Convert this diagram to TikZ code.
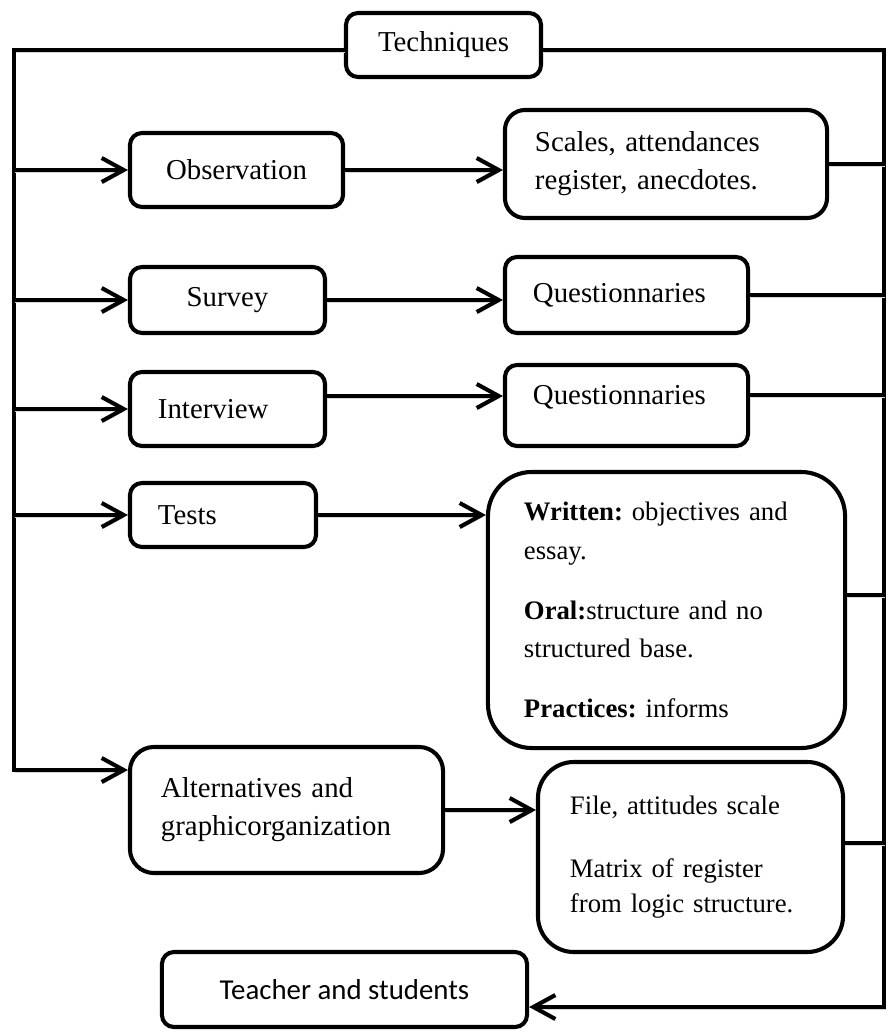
\documentclass[tikz,border=0pt]{standalone}
\usepackage{fontspec}
\setmainfont{Liberation Serif}
\newfontfamily\calibrifont{Carlito}
\usetikzlibrary{arrows.meta,shadows}
\frenchspacing

\begin{document}
\begin{tikzpicture}[x=0.025cm, y=-0.025cm,
    box/.style={draw, line width=2.9pt, rounded corners=0.3cm, fill=white, inner sep=0pt,
        drop shadow={fill=black!16, shadow xshift=0.7pt, shadow yshift=-1.4pt},
        font=\fontsize{20.5}{27}\selectfont},
    link/.style={line width=2.9pt,
        preaction={draw=black!16, transform canvas={xshift=0.7pt, yshift=-1.4pt}}},
    arr/.style={link, -{Straight Barb[length=5.5mm, width=6mm]}}]
    \useasboundingbox (0,0) rectangle (888,1032);

    % title and first column
    \node[box, minimum width=4.875cm, minimum height=1.6cm] (tech) at (443.5,45) {Techniques};
    \node[box, minimum width=5.325cm, minimum height=1.85cm] (obs) at (236.5,170) {Observation};
    \node[box, minimum width=4.875cm, minimum height=1.65cm] (survey) at (227.5,300) {Survey};
    \node[box, align=left, text width=3.475cm, inner xsep=0.7cm, minimum height=1.85cm] (interview) at (227.5,409) {Interview};
    \node[box, align=left, text width=3.25cm, inner xsep=0.7cm, minimum height=1.6cm] (tests) at (223,515) {Tests};
    \node[box, align=left, text width=6.275cm, inner xsep=0.775cm, minimum height=3.15cm, rounded corners=0.6cm] (alt) at (286.5,810) {Alternatives and\\graphicorganization};

    % instruments
    \node[box, align=left, text width=6.55cm, inner xsep=0.75cm, minimum height=2.7cm, rounded corners=0.5cm] (scales) at (666,164) {Scales, attendances\\register, anecdotes.};
    \node[box, align=left, text width=4.675cm, inner xsep=0.7cm, minimum height=1.9cm] (q1) at (626.5,295) {Questionnaries};
    \node[box, align=left, text width=4.675cm, inner xsep=0.7cm, minimum height=2.025cm, text height=0.5cm, text depth=0.55cm] (q2) at (626.5,405.5) {Questionnaries};
    \node[box, align=left, text width=7.125cm, inner xsep=0.9cm, minimum height=6.9cm, rounded corners=1.1cm, font=\fontsize{19}{27.5}\selectfont] (written) at (666.5,610) {\textbf{Written:} objectives and\\essay.\\[15pt]\textbf{Oral:}structure and no\\structured base.\\[15pt]\textbf{Practices:} informs};
    \node[box, align=left, text width=6.025cm, inner xsep=0.8cm, minimum height=4.75cm, rounded corners=0.9cm, font=\fontsize{19}{25}\selectfont] (file) at (690.5,857) {File, attitudes scale\\[20pt]Matrix of register\\from logic structure.};

    % result
    \node[box, minimum width=9.125cm, minimum height=1.875cm, font=\calibrifont\fontsize{20.5}{24}\selectfont] (teacher) at (344.5,989.5) {Teacher and students};

    \coordinate (tl) at (14,50);
    \coordinate (tr) at (884,50);
    \coordinate (bl) at (14,770);
    \coordinate (br) at (884,1007);

    % frame
    \draw[arr] (tech.west |- tl) -- (tl) -- (bl) -- (alt.west |- bl);
    \draw[arr] (tech.east |- tr) -- (tr) -- (br) -- (teacher.east |- br);
    \foreach \n in {obs,survey,interview,tests}
        \draw[arr] (tl |- \n.west) -- (\n.west);

    % techniques to instruments
    \draw[arr] (obs.east) -- (obs.east -| scales.west);
    \draw[arr] (survey.east) -- (survey.east -| q1.west);
    \draw[arr] ([yshift=3.25mm]interview.east) coordinate (ivout) -- (ivout -| q2.west);
    \draw[arr] (tests.east) -- (tests.east -| written.west);
    \draw[arr] (alt.east) -- (alt.east -| file.west);

    % instruments back to the frame
    \draw[link] (scales.east) -- (scales.east -| tr);
    \draw[link] (q1.east) -- (q1.east -| tr);
    \draw[link] ([yshift=2.6mm]q2.east) coordinate (q2out) -- (q2out -| tr);
    \draw[link] ([yshift=3.75mm]written.east) coordinate (wrout) -- (wrout -| tr);
    \draw[link] ([yshift=3.5mm]file.east) coordinate (fiout) -- (fiout -| tr);
\end{tikzpicture}
\end{document}
